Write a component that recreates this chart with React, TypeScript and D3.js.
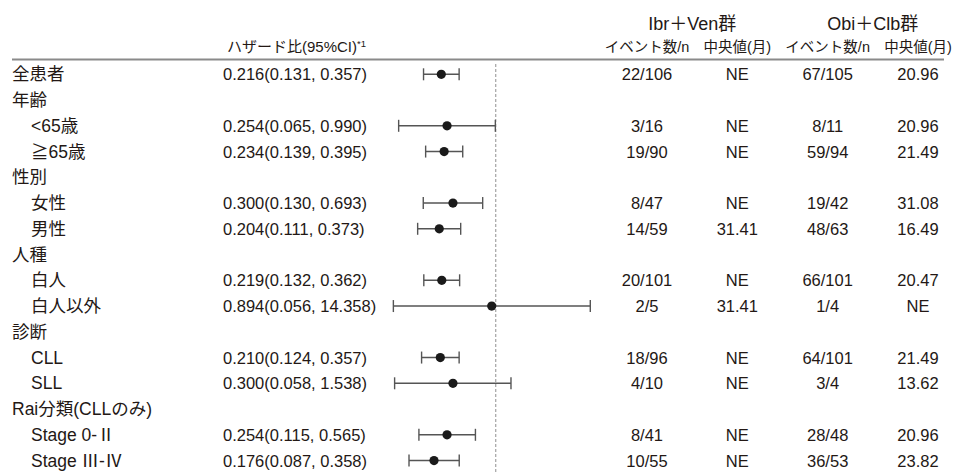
import React from "react";
import * as d3 from "d3";

const labels = ["全患者", "年齢", "<65歳", "≧65歳", "性別", "女性", "男性", "人種", "白人", "白人以外", "診断", "CLL", "SLL", "Rai分類(CLLのみ)", "Stage 0-Ⅱ", "Stage Ⅲ-Ⅳ"];
const indented = [false, false, true, true, false, true, true, false, true, true, false, true, true, false, true, true];
const hr: (number | null)[] = [0.216, null, 0.254, 0.234, null, 0.300, 0.204, null, 0.219, 0.894, null, 0.210, 0.300, null, 0.254, 0.176];
const ciLow: (number | null)[] = [0.131, null, 0.065, 0.139, null, 0.130, 0.111, null, 0.132, 0.056, null, 0.124, 0.058, null, 0.115, 0.087];
const ciHigh: (number | null)[] = [0.357, null, 0.990, 0.395, null, 0.693, 0.373, null, 0.362, 14.358, null, 0.357, 1.538, null, 0.565, 0.358];
const ibrEvents = ["22/106", "", "3/16", "19/90", "", "8/47", "14/59", "", "20/101", "2/5", "", "18/96", "4/10", "", "8/41", "10/55"];
const ibrMedian = ["NE", "", "NE", "NE", "", "NE", "31.41", "", "NE", "31.41", "", "NE", "NE", "", "NE", "NE"];
const obiEvents = ["67/105", "", "8/11", "59/94", "", "19/42", "48/63", "", "66/101", "1/4", "", "64/101", "3/4", "", "28/48", "36/53"];
const obiMedian = ["20.96", "", "20.96", "21.49", "", "31.08", "16.49", "", "20.47", "NE", "", "21.49", "13.62", "", "20.96", "23.82"];

const groupHeaders = ["Ibr＋Ven群", "Obi＋Clb群"];
const colHeaders = ["イベント数/n", "中央値(月)", "イベント数/n", "中央値(月)"];
const hrHeader = "ハザード比(95%CI)";

const W = 956;
const H = 473;
const FONT = '"Liberation Sans", "Noto Sans CJK JP", sans-serif';
const TXT = "#231815";

export default function App() {
  const x = d3.scaleLog().domain([0.01, 100]).range([332.2, 659.2]);
  const y = d3.scaleLinear().domain([0, labels.length - 1]).range([74.3, 74.3 + 25.75 * (labels.length - 1)]);
  const colX = d3.scalePoint<number>().domain([0, 1, 2, 3]).range([647, 918]);
  const fmt = d3.format(".3f");

  return (
    <svg width={W} height={H} style={{ position: "absolute", left: 0, top: 0, background: "#fff" }} fontFamily={FONT}>
      <text x={(colX(0)! + colX(1)!) / 2} y={30} textAnchor="middle" fontSize={18} fill={TXT}>{groupHeaders[0]}</text>
      <text x={(colX(2)! + colX(3)!) / 2} y={30} textAnchor="middle" fontSize={18} fill={TXT}>{groupHeaders[1]}</text>
      {colHeaders.map((h, i) => (
        <text key={i} x={colX(i)} y={52} textAnchor="middle" fontSize={14.5} fill={TXT}>{h}</text>
      ))}
      <text x={227} y={52} fontSize={15} fill={TXT}>
        {hrHeader}
        <tspan fontSize={9.5} dy={-5}>*1</tspan>
      </text>
      <line x1={12} x2={944} y1={59.5} y2={59.5} stroke="#8a8a8a" strokeWidth={2} />
      <line x1={x(1)} x2={x(1)} y1={64} y2={H} stroke="#aaa" strokeWidth={1.3} strokeDasharray="3,2" />
      {labels.map((lab, i) => {
        const cy = y(i);
        const ty = cy + 6;
        const h = hr[i];
        const lo = ciLow[i];
        const hi = ciHigh[i];
        return (
          <g key={i}>
            <text x={indented[i] ? 31 : 12} y={ty} fontSize={17.5} fill={TXT}>{lab}</text>
            {h !== null && lo !== null && hi !== null && (
              <g>
                <text x={223} y={ty} fontSize={16.5} fill={TXT}>{`${fmt(h)}(${fmt(lo)}, ${fmt(hi)})`}</text>
                <line x1={x(lo)} x2={x(hi)} y1={cy} y2={cy} stroke="#555" strokeWidth={1.4} />
                <line x1={x(lo)} x2={x(lo)} y1={cy - 6} y2={cy + 6} stroke="#555" strokeWidth={1.4} />
                <line x1={x(hi)} x2={x(hi)} y1={cy - 6} y2={cy + 6} stroke="#555" strokeWidth={1.4} />
                <circle cx={x(h)} cy={cy} r={4.6} fill="#1a1a1a" />
              </g>
            )}
            {[ibrEvents[i], ibrMedian[i], obiEvents[i], obiMedian[i]].map((v, j) => (
              <text key={j} x={colX(j)} y={ty} textAnchor="middle" fontSize={16.5} fill={TXT}>{v}</text>
            ))}
          </g>
        );
      })}
    </svg>
  );
}
